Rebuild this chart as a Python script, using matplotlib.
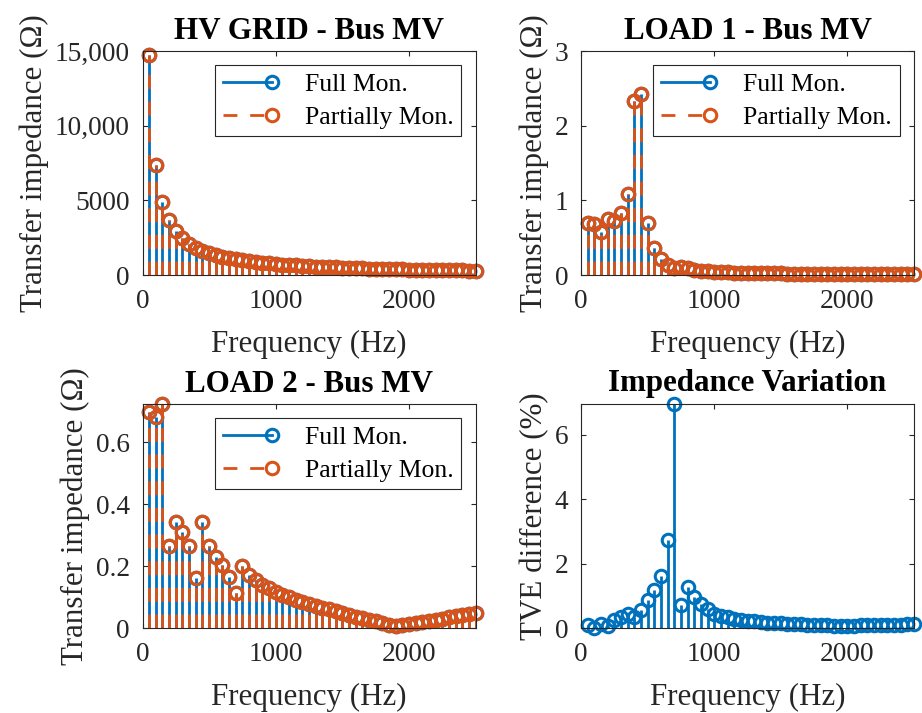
import numpy as np
import matplotlib
matplotlib.use("Agg")
import matplotlib.pyplot as plt
from matplotlib.lines import Line2D
from matplotlib.legend_handler import HandlerLine2D
from matplotlib.ticker import FuncFormatter

plt.rcParams['font.family'] = ['Liberation Serif', 'DejaVu Serif']

# Harmonic frequencies (Hz)
freq = [50 * k for k in range(1, 51)]

# HV GRID - Bus MV transfer impedance (Ohm)
hv_full = [14700, 7350, 4900, 3680, 2940, 2450, 2100, 1840, 1630, 1470,
           1340, 1225, 1130, 1050, 980, 920, 865, 815, 775, 735,
           700, 670, 640, 612, 588, 565, 545, 525, 507, 490,
           474, 460, 445, 432, 420, 408, 397, 387, 377, 368,
           359, 350, 342, 334, 327, 320, 313, 306, 300, 294]
hv_part = [14700, 7350, 4900, 3680, 2940, 2450, 2100, 1840, 1630, 1470,
           1340, 1225, 1130, 1050, 980, 920, 865, 815, 775, 735,
           700, 670, 640, 612, 588, 565, 545, 525, 507, 490,
           474, 460, 445, 432, 420, 408, 397, 387, 377, 368,
           359, 350, 342, 334, 327, 320, 313, 306, 300, 294]

# LOAD 1 - Bus MV transfer impedance (Ohm)
l1_full = [0.69, 0.685, 0.57, 0.75, 0.72, 0.83, 1.09, 2.33, 2.42, 0.69,
           0.36, 0.22, 0.14, 0.09, 0.11, 0.09, 0.065, 0.055, 0.047, 0.041,
           0.037, 0.034, 0.031, 0.029, 0.027, 0.025, 0.024, 0.023, 0.022, 0.021,
           0.020, 0.019, 0.018, 0.018, 0.017, 0.017, 0.016, 0.016, 0.015, 0.015,
           0.015, 0.014, 0.014, 0.014, 0.013, 0.013, 0.013, 0.013, 0.012, 0.012]
l1_part = [0.69, 0.685, 0.57, 0.75, 0.72, 0.83, 1.09, 2.33, 2.42, 0.69,
           0.36, 0.22, 0.14, 0.09, 0.11, 0.09, 0.065, 0.055, 0.047, 0.041,
           0.037, 0.034, 0.031, 0.029, 0.027, 0.025, 0.024, 0.023, 0.022, 0.021,
           0.020, 0.019, 0.018, 0.018, 0.017, 0.017, 0.016, 0.016, 0.015, 0.015,
           0.015, 0.014, 0.014, 0.014, 0.013, 0.013, 0.013, 0.013, 0.012, 0.012]

# LOAD 2 - Bus MV transfer impedance (Ohm)
l2_full = [0.697, 0.681, 0.724, 0.264, 0.342, 0.31, 0.264, 0.162, 0.342, 0.264,
           0.23, 0.205, 0.165, 0.114, 0.202, 0.17, 0.155, 0.14, 0.128, 0.115,
           0.107, 0.099, 0.092, 0.085, 0.078, 0.072, 0.066, 0.060, 0.054, 0.048,
           0.043, 0.037, 0.032, 0.027, 0.022, 0.016, 0.011, 0.006, 0.009, 0.012,
           0.016, 0.019, 0.023, 0.026, 0.030, 0.034, 0.038, 0.042, 0.046, 0.050]
l2_part = [0.697, 0.681, 0.724, 0.264, 0.342, 0.31, 0.264, 0.162, 0.342, 0.264,
           0.23, 0.205, 0.165, 0.114, 0.202, 0.17, 0.155, 0.14, 0.128, 0.115,
           0.107, 0.099, 0.092, 0.085, 0.078, 0.072, 0.066, 0.060, 0.054, 0.048,
           0.043, 0.037, 0.032, 0.027, 0.022, 0.016, 0.011, 0.006, 0.009, 0.012,
           0.016, 0.019, 0.023, 0.026, 0.030, 0.034, 0.038, 0.042, 0.046, 0.050]

# TVE difference between full and partial monitoring (%)
tve = [0.09, 0.01, 0.13, 0.05, 0.25, 0.34, 0.42, 0.33, 0.55, 0.87,
       1.17, 1.63, 2.72, 6.96, 0.72, 1.27, 0.96, 0.76, 0.58, 0.45,
       0.38, 0.33, 0.29, 0.26, 0.23, 0.21, 0.19, 0.17, 0.16, 0.15,
       0.13, 0.12, 0.11, 0.10, 0.09, 0.08, 0.08, 0.07, 0.07, 0.07,
       0.07, 0.08, 0.08, 0.08, 0.09, 0.09, 0.10, 0.10, 0.11, 0.11]

titles = ["HV GRID - Bus MV", "LOAD 1 - Bus MV", "LOAD 2 - Bus MV", "Impedance Variation"]
legend_labels = ["Full Mon.", "Partially Mon."]

BLUE = "#0072BD"
ORANGE = "#D95319"
AX_COL = "#262626"
DASH = (0, (5, 4.6))

TICK_FS = 19.7
LABEL_FS = 22.3
LEGEND_FS = 18.5

fig = plt.figure(figsize=(9.22, 7.13), dpi=100)
W, H = 922, 713


def make_axes(left, top, right, bottom):
    return fig.add_axes([left / W, 1 - bottom / H, (right - left) / W, (bottom - top) / H])


ax_tl = make_axes(142.5, 51, 475.5, 275)
ax_tr = make_axes(581, 51, 914, 275)
ax_bl = make_axes(142.5, 404, 475.5, 628)
ax_br = make_axes(581, 404, 914, 628)


def stem_series(ax, x, y, color, dashed=False):
    markerline, stemlines, baseline = ax.stem(x, y, basefmt=" ")
    stemlines.set_color(color)
    stemlines.set_linewidth(2.0)
    if dashed:
        stemlines.set_linestyle(DASH)
    markerline.set_marker("o")
    markerline.set_markersize(9)
    markerline.set_markerfacecolor("none")
    markerline.set_markeredgecolor(color)
    markerline.set_markeredgewidth(2.2)
    markerline.set_linestyle("none")
    markerline.set_clip_on(False)
    baseline.set_visible(False)


class EndMarkerHandler(HandlerLine2D):
    """Line handle with a single marker sitting at its right end."""
    def create_artists(self, legend, orig_handle, xdescent, ydescent,
                       width, height, fontsize, trans):
        artists = super().create_artists(legend, orig_handle, xdescent, ydescent,
                                         width, height, fontsize, trans)
        for art in artists:
            if isinstance(art, Line2D) and art.get_marker() not in (None, "None", "", " "):
                n = len(art.get_xdata())
                art.set_markevery([n - 1])
        return artists


def style_axes(ax, title, ylabel):
    ax.set_xlim(0, 2500)
    ax.set_xticks([0, 1000, 2000])
    for s in ax.spines.values():
        s.set_color(AX_COL)
        s.set_linewidth(0.8)
    ax.tick_params(direction="in", top=True, right=True, length=3.5, width=0.8,
                   colors=AX_COL, labelsize=TICK_FS)
    ax.tick_params(axis="x", pad=10)
    ax.tick_params(axis="y", pad=9)
    ax.set_title(title, fontsize=LABEL_FS, fontweight="bold", pad=9)
    ax.set_xlabel("Frequency (Hz)", fontsize=LABEL_FS, color=AX_COL, labelpad=11.5)
    ax.set_ylabel(ylabel, fontsize=LABEL_FS, color=AX_COL, labelpad=4)


def add_legend(ax):
    h_full = Line2D([], [], color=BLUE, lw=2.0, marker="o", ms=9, mfc="none",
                    mec=BLUE, mew=2.2)
    h_part = Line2D([], [], color=ORANGE, lw=2.0, ls=DASH, marker="o", ms=9,
                    mfc="none", mec=ORANGE, mew=2.2)
    leg = ax.legend([h_full, h_part], legend_labels, loc="upper right",
                    fontsize=LEGEND_FS, handlelength=1.9, handletextpad=1.3,
                    borderaxespad=0.55, borderpad=0.3, labelspacing=0.38,
                    fancybox=False, framealpha=1.0, edgecolor=AX_COL,
                    handler_map={Line2D: EndMarkerHandler(numpoints=2, marker_pad=0)})
    leg.get_frame().set_linewidth(0.8)


# HV GRID
stem_series(ax_tl, freq, hv_full, BLUE)
stem_series(ax_tl, freq, hv_part, ORANGE, dashed=True)
ax_tl.set_ylim(0, 15000)
ax_tl.set_yticks([0, 5000, 10000, 15000])
ax_tl.yaxis.set_major_formatter(FuncFormatter(
    lambda v, p: f"{int(v):,}" if v >= 10000 else f"{int(v)}"))
style_axes(ax_tl, titles[0], "Transfer impedance (Ω)")
add_legend(ax_tl)

# LOAD 1
stem_series(ax_tr, freq, l1_full, BLUE)
stem_series(ax_tr, freq, l1_part, ORANGE, dashed=True)
ax_tr.set_ylim(0, 3)
ax_tr.set_yticks([0, 1, 2, 3])
style_axes(ax_tr, titles[1], "Transfer impedance (Ω)")
add_legend(ax_tr)

# LOAD 2
stem_series(ax_bl, freq, l2_full, BLUE)
stem_series(ax_bl, freq, l2_part, ORANGE, dashed=True)
ax_bl.set_ylim(0, max(max(l2_full), max(l2_part)))
ax_bl.set_yticks([0, 0.2, 0.4, 0.6])
ax_bl.yaxis.set_major_formatter(FuncFormatter(
    lambda v, p: "0" if v == 0 else f"{v:.1f}"))
style_axes(ax_bl, titles[2], "Transfer impedance (Ω)")
add_legend(ax_bl)

# Impedance variation
stem_series(ax_br, freq, tve, BLUE)
ax_br.set_ylim(0, max(tve))
ax_br.set_yticks([0, 2, 4, 6])
style_axes(ax_br, titles[3], "TVE difference (%)")

fig.savefig("out.png", dpi=100, facecolor="white")
